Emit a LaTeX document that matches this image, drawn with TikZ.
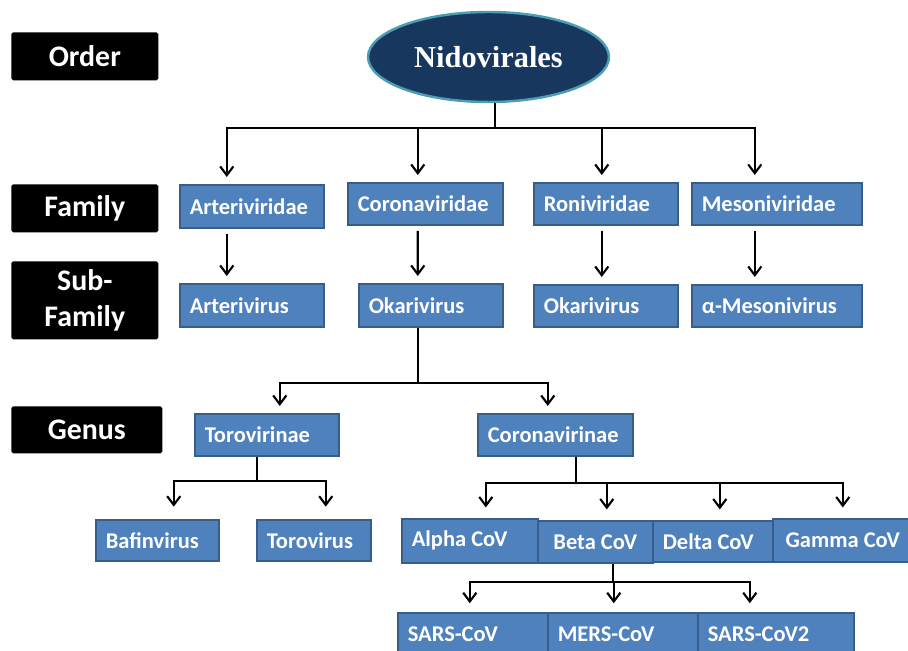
\documentclass[tikz,border=0pt]{standalone}
\usepackage{fontspec}
\usetikzlibrary{arrows.meta,shapes.geometric}
\newfontfamily\boxfont{Carlito}
\newfontfamily\ordfont{Liberation Serif}
\definecolor{boxblue}{HTML}{4F81BD}
\definecolor{boxline}{HTML}{385D8A}
\definecolor{ordnavy}{HTML}{17375E}
\definecolor{ordrim}{HTML}{4A9DB2}

\begin{document}
\begin{tikzpicture}[x = 0.02cm, y = -0.02cm,
                    rank/.style = {fill = black, rounded corners = 1pt, text = white, inner sep = 0pt,
                                   align = flush center, anchor = north west,
                                   font = \boxfont\bfseries\fontsize{17}{20}\selectfont},
                    vbox/.style = {draw = boxline, line width = 0.9pt, fill = boxblue, text = white,
                                   anchor = north west, inner xsep = 0.2cm, inner ysep = 0pt,
                                   minimum height = 0.84cm, align = flush left, text width = #1,
                                   font = \boxfont\bfseries\fontsize{12.8}{15}\selectfont},
                    arr/.style = {line width = 1.2pt, -{Straight Barb[length=5pt, width=7.5pt]}, shorten >= 4pt},
                    stem/.style = {line width = 1.2pt}]
      \useasboundingbox (0, 0) rectangle (908, 651);

      % ranks on the left
      \node [rank, minimum width = 2.94cm, minimum height = 0.96cm] (order) at (11, 32) {Order};
      \node [rank, minimum width = 2.94cm, minimum height = 0.96cm] (family) at (11, 184) {Family};
      \node [rank, minimum width = 2.94cm, minimum height = 1.56cm] (subfam) at (11, 261) {Sub-\\Family};
      \node [rank, minimum width = 3.02cm, minimum height = 0.94cm] (genus) at (11, 406) {Genus};

      % order
      \node [ellipse, draw = ordrim, line width = 1.4pt, fill = ordnavy, text = white,
             minimum width = 4.82cm, minimum height = 1.8cm, inner sep = 0pt,
             font = \ordfont\bfseries\fontsize{17.3}{20}\selectfont] (nido) at (488.5, 57) {Nidovirales};

      % families
      \node [vbox = 2.48cm, minimum height = 0.86cm] (arteri) at (179, 184) {Arteriviridae};
      \node [vbox = 2.70cm] (coronav) at (347, 182) {Coronaviridae};
      \node [vbox = 2.48cm] (roni) at (533, 182) {Roniviridae};
      \node [vbox = 3.00cm] (mesoni) at (691, 182) {Mesoniviridae};

      % sub-families
      \node [vbox = 2.48cm, minimum height = 0.86cm] (arterivirus) at (179, 283) {Arterivirus};
      \node [vbox = 2.48cm, minimum height = 0.86cm] (okari) at (358, 283) {Okarivirus};
      \node [vbox = 2.48cm] (okaritwo) at (533, 284) {Okarivirus};
      \node [vbox = 3.00cm] (amesoni) at (691, 284) {α-Mesonivirus};

      % genus
      \node [vbox = 2.48cm] (torovirinae) at (194, 413) {Torovirinae};
      \node [vbox = 2.70cm] (coronavirinae) at (477, 413) {Coronavirinae};

      \node [vbox = 2.06cm, minimum height = 0.82cm] (bafin) at (95, 519) {Bafinvirus};
      \node [vbox = 1.88cm, minimum height = 0.82cm] (torovirus) at (256, 519) {Torovirus};

      \node [vbox = 2.32cm, minimum height = 0.88cm] (alpha) at (401, 518) {Alpha CoV};
      \node [vbox = 1.90cm, align = flush center] (beta) at (537, 520) {Beta CoV};
      \node [vbox = 2.00cm, minimum height = 0.82cm] (delta) at (652, 520) {Delta CoV};
      \node [vbox = 2.40cm, minimum height = 0.86cm, align = flush center] (gamma) at (772, 518) {Gamma CoV};

      \node [vbox = 2.60cm] (sars) at (397, 612) {SARS-CoV};
      \node [vbox = 2.60cm] (mers) at (547, 612) {MERS-CoV};
      \node [vbox = 2.72cm] (sarstwo) at (697, 612) {SARS-CoV2};

      % junctions
      \coordinate (j0) at (495, 128);
      \coordinate (j1) at (418, 383);
      \coordinate (j2) at (257, 481);
      \coordinate (j3) at (576, 483);
      \coordinate (j4) at (613, 582);

      % order -> families
      \draw [stem] (j0 |- nido.south) -- (j0);
      \draw [arr] (j0) -| ([xshift = -0.50cm]arteri.north);
      \draw [arr] (j0) -| ([xshift = -0.15cm]coronav.north);
      \draw [arr] (j0) -| ([xshift = -0.08cm]roni.north);
      \draw [arr] (j0) -| ([xshift = -0.44cm]mesoni.north);

      % families -> sub-families
      \draw [arr, shorten <= 3pt] ([xshift = -0.50cm]arteri.south) -- ([xshift = -0.50cm]arterivirus.north);
      \draw [arr, shorten <= 3pt] ([xshift = -0.15cm]coronav.south) -- ([xshift = -0.26cm]okari.north);
      \draw [arr, shorten <= 3pt] ([xshift = -0.08cm]roni.south) -- ([xshift = -0.08cm]okaritwo.north);
      \draw [arr, shorten <= 3pt] ([xshift = -0.44cm]mesoni.south) -- ([xshift = -0.44cm]amesoni.north);

      % okarivirus -> genus
      \draw [stem] (j1 |- okari.south) -- (j1);
      \draw [arr] (j1) -| ([xshift = 0.26cm]torovirinae.north);
      \draw [arr] (j1) -| ([xshift = -0.15cm]coronavirinae.north);

      % torovirinae
      \draw [stem] (j2 |- torovirinae.south) -- (j2);
      \draw [arr, shorten >= 7pt] (j2) -| ([xshift = 0.33cm]bafin.north);
      \draw [arr, shorten >= 7pt] (j2) -| ([xshift = 0.24cm]torovirus.north);

      % coronavirinae
      \draw [stem] (j3 |- coronavirinae.south) -- (j3);
      \draw [arr, shorten >= 6pt] (j3) -| ([xshift = 0.32cm]alpha.north);
      \draw [arr, shorten >= 6pt] (j3) -| ([xshift = 0.23cm]beta.north);
      \draw [arr, shorten >= 6pt] (j3) -| ([xshift = 0.14cm]delta.north);
      \draw [arr, shorten >= 6pt] (j3) -| (gamma.north);

      % beta cov
      \draw [stem] (j4 |- beta.south) -- (j4);
      \draw [arr, shorten >= 5pt] (j4) -| ([xshift = -0.06cm]sars.north);
      \draw [arr, shorten >= 5pt] (j4) -| ([xshift = -0.18cm]mers.north);
      \draw [arr, shorten >= 5pt] (j4) -| ([xshift = -0.52cm]sarstwo.north);
\end{tikzpicture}
\end{document}
